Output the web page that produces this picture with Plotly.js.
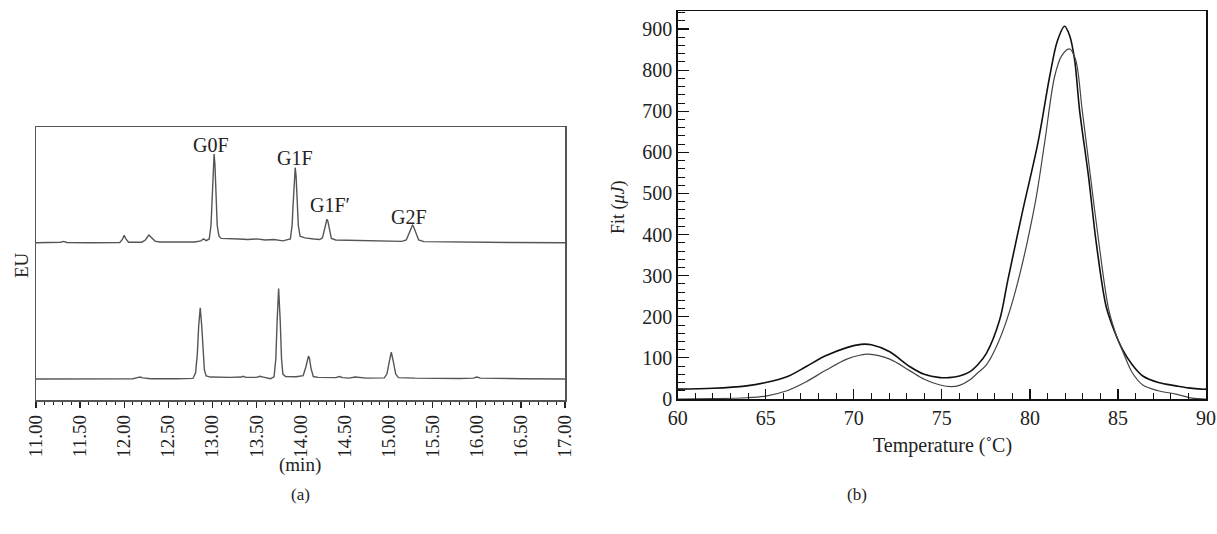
<!DOCTYPE html>
<html>
<head>
<meta charset="utf-8">
<script src="https://cdn.plot.ly/plotly-3.0.1.min.js"></script>
<style>html,body{margin:0;padding:0;background:#fff}#chart{width:1217px;height:534px}</style>
</head>
<body>
<div id="chart"></div>
<script>
// ---- Panel (a): chromatograms (retention time in min, signal in EU) ----
const upperTime = [11.00,11.20,11.28,11.31,11.35,11.60,11.80,11.95,11.98,12.00,12.02,12.05,12.20,12.24,12.28,12.31,12.35,12.40,12.60,12.80,12.87,12.90,12.93,12.965,12.985,12.995,13.01,13.02,13.03,13.045,13.055,13.075,13.10,13.30,13.40,13.50,13.60,13.70,13.80,13.885,13.905,13.915,13.93,13.94,13.95,13.965,13.975,13.995,14.05,14.15,14.22,14.25,14.27,14.29,14.30,14.31,14.33,14.35,14.40,14.60,14.90,15.15,15.20,15.23,15.26,15.27,15.28,15.31,15.34,15.40,15.80,16.40,17.00];
const upperSignal = [57.6,57.6,57.8,58.1,57.7,57.6,57.6,57.7,58.8,60.3,59.0,57.8,57.8,58.6,60.4,59.6,58.2,57.9,57.9,57.9,58.3,59.0,58.4,59.0,64,72,86,90.1,86,72,64,60.0,59.2,59.0,58.8,59.0,58.6,58.8,58.3,59.0,64,71,82,85.1,82,71,64,60.0,59.4,59.0,58.8,59.5,62.5,65.8,66.2,65.6,62,59.2,58.6,58.4,58.3,58.1,58.6,61.2,63.7,64.0,63.7,61,58.6,58.0,57.8,57.7,57.6];

const lowerTime = [11.00,11.50,11.90,12.10,12.15,12.18,12.21,12.30,12.60,12.78,12.81,12.83,12.845,12.863,12.88,12.895,12.91,12.93,12.98,13.20,13.33,13.35,13.38,13.50,13.54,13.58,13.66,13.70,13.72,13.735,13.752,13.77,13.785,13.80,13.83,13.95,14.03,14.06,14.08,14.09,14.10,14.12,14.145,14.20,14.40,14.44,14.48,14.55,14.62,14.68,14.75,14.95,14.98,15.01,15.03,15.05,15.08,15.11,15.30,15.80,15.96,16.00,16.04,16.50,17.00];
const lowerSignal = [7.7,7.8,7.7,7.8,8.2,8.4,8.1,7.8,7.8,7.9,10,17,27,33.8,27,17,11,8.8,8.4,8.3,8.4,8.7,8.3,8.3,8.7,8.4,7.8,8.5,15,29,40.8,29,15,9.5,8.6,8.5,8.9,12,15.6,16.1,15.5,11.5,8.6,8.3,8.2,8.6,8.2,8.0,8.4,8.3,8.0,8.1,9.5,14.5,17.5,14.5,9.5,8.2,8.0,7.9,8.0,8.4,8.0,7.8,7.7];

const peakNames = ["G0F","G1F","G1F′","G2F"];
const peakLabelTime = [12.98,13.94,14.33,15.23];
const peakLabelSignal = [93.4,88.6,71.4,67.0];

const timeTicks = [11.0,11.5,12.0,12.5,13.0,13.5,14.0,14.5,15.0,15.5,16.0,16.5,17.0];
const timeTickText = ["11.00","11.50","12.00","12.50","13.00","13.50","14.00","14.50","15.00","15.50","16.00","16.50","17.00"];

// ---- Panel (b): DSC fit curves (Temperature °C, Fit μJ) ----
const tempA = [60,62,63.9,65,66.2,67.3,68.4,69.6,70.4,71.0,72.04,73.17,74.0,74.9,75.4,76.0,76.58,77.05,77.53,78.28,78.75,79.6,80.45,81.12,81.55,81.97,82.25,82.54,82.82,83.33,83.77,84.33,84.8,85.28,85.8,86.41,87.3,88.3,89.0,89.72,90];
const fitA = [24,26,32,40,54,79,105,125,133,132,115,79,60,52,52,56,66,84,111,192,290,460,622,784,870,907,885,825,703,541,379,225,165,119,84,56,40,32,27,24,24];

const tempB = [60,62,63.9,65,66.2,67.3,68.45,69.6,70.4,70.8,72.04,73.17,74.0,74.9,75.54,76.0,76.58,77.0,77.53,78.19,79.04,80.27,80.83,81.4,81.8,82.25,82.6,82.97,83.44,83.92,84.48,84.99,85.28,85.8,86.41,87.3,88.3,89.2,90];
const fitB = [0,1,3,7,20,42,71,97,107,109,97,69,48,34,30,33,46,62,83,136,241,470,622,784,835,852,825,703,541,379,217,145,115,65,34,20,12,2,0];

const serif = "Liberation Serif, 'Times New Roman', Times, serif";
const W = 1217, H = 534;
const px = v => v / W, py = v => 1 - v / H;

const traces = [
  {x: upperTime, y: upperSignal, xaxis:'x', yaxis:'y', mode:'lines', line:{color:'#555', width:1.4}, hoverinfo:'skip'},
  {x: lowerTime, y: lowerSignal, xaxis:'x', yaxis:'y', mode:'lines', line:{color:'#555', width:1.4}, hoverinfo:'skip'},
  {x: tempA, y: fitA, xaxis:'x2', yaxis:'y2', mode:'lines', line:{color:'#111', width:1.6, shape:'spline', smoothing:0.9}, hoverinfo:'skip'},
  {x: tempB, y: fitB, xaxis:'x2', yaxis:'y2', mode:'lines', line:{color:'#444', width:1.2, shape:'spline', smoothing:0.9}, hoverinfo:'skip'}
];

const txt = (text, x, y, size, extra) => Object.assign({
  text, x, y, xref:'paper', yref:'paper', xanchor:'center', yanchor:'middle', showarrow:false,
  font:{family:serif, size, color:'#222'}
}, extra || {});

const annotations = peakNames.map((n,i) => ({
  text:n, x:peakLabelTime[i], y:peakLabelSignal[i], xref:'x', yref:'y', xanchor:'center', yanchor:'middle', showarrow:false,
  font:{family:serif, size:20, color:'#222'}
}));
annotations.push(
  txt('EU', px(21), py(265), 19, {textangle:-90}),
  txt('(min)', px(300), py(465), 19),
  txt('(a)', px(300), py(494), 17),
  txt('(b)', px(857), py(494), 17),
  txt('Temperature (˚C)', px(942), py(445), 20),
  txt('Fit (<i>μJ</i>)', px(619), py(207), 18, {textangle:-90})
);

const layout = {
  width: W, height: H,
  margin: {l:0, r:0, t:0, b:0},
  paper_bgcolor:'#fff', plot_bgcolor:'#fff',
  showlegend:false,
  font:{family:serif, color:'#222'},
  xaxis: {
    domain:[px(36), px(565)], anchor:'y', range:[11,17],
    tickmode:'array', tickvals:timeTicks, ticktext:timeTickText, tickangle:-90,
    ticks:'outside', ticklen:6, tickwidth:1.2, tickcolor:'#222',
    minor:{dtick:0.1, tick0:11, ticks:'outside', ticklen:3.5, tickwidth:1, tickcolor:'#222', showgrid:false},
    showline:true, linecolor:'#555', linewidth:1.5, mirror:true,
    showgrid:false, zeroline:false, tickfont:{family:serif, size:19, color:'#222'}
  },
  yaxis: {
    domain:[py(400), py(127)], anchor:'x', range:[0,100],
    showticklabels:false, ticks:'', showline:true, linecolor:'#555', linewidth:1.5, mirror:true,
    showgrid:false, zeroline:false
  },
  xaxis2: {
    domain:[px(677.7), px(1206)], anchor:'y2', range:[60,90],
    tickmode:'linear', tick0:60, dtick:5,
    ticks:'inside', ticklen:10, tickwidth:1.2, tickcolor:'#111',
    minor:{dtick:1, ticks:'inside', ticklen:6, tickwidth:1, tickcolor:'#111', showgrid:false},
    showline:true, linecolor:'#111', linewidth:1.5, mirror:true,
    showgrid:false, zeroline:false, tickfont:{family:serif, size:20, color:'#222'}
  },
  yaxis2: {
    domain:[py(399), py(11)], anchor:'x2', range:[0,944],
    tickmode:'linear', tick0:0, dtick:100,
    ticks:'inside', ticklen:11, tickwidth:1.2, tickcolor:'#111',
    minor:{dtick:20, ticks:'inside', ticklen:7, tickwidth:1, tickcolor:'#111', showgrid:false},
    showline:true, linecolor:'#111', linewidth:1.5, mirror:true,
    showgrid:false, zeroline:false, tickfont:{family:serif, size:20, color:'#222'}
  },
  annotations: annotations
};

Plotly.newPlot('chart', traces, layout, {staticPlot:true, displayModeBar:false});
</script>
</body>
</html>
